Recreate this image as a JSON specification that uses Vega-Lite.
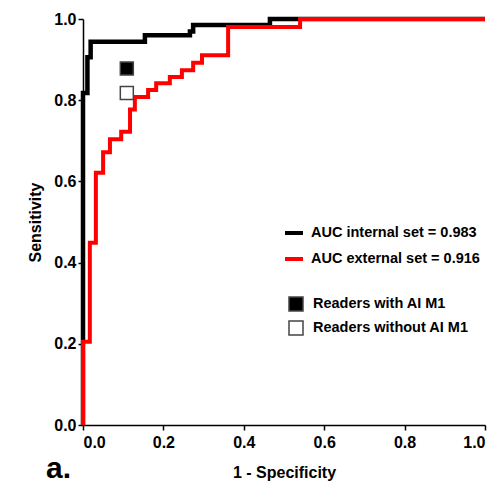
{
  "$schema": "https://vega.github.io/schema/vega-lite/v6.json",
  "width": 402,
  "height": 406,
  "autosize": {"type": "none"},
  "padding": {"left": 83, "top": 19, "right": 14, "bottom": 57},
  "background": "white",
  "title": {
    "text": "a.",
    "orient": "bottom",
    "anchor": "start",
    "frame": "group",
    "font": "Liberation Sans",
    "fontSize": 30,
    "fontWeight": "bold",
    "color": "black",
    "baseline": "alphabetic",
    "dx": -37,
    "dy": -6
  },
  "datasets": {
    "roc": [
      {"curve": "AUC internal set = 0.983", "i": 0, "fpr": 0.0, "tpr": 0.0},
      {"curve": "AUC internal set = 0.983", "i": 1, "fpr": 0.0, "tpr": 0.818},
      {"curve": "AUC internal set = 0.983", "i": 2, "fpr": 0.011, "tpr": 0.906},
      {"curve": "AUC internal set = 0.983", "i": 3, "fpr": 0.019, "tpr": 0.944},
      {"curve": "AUC internal set = 0.983", "i": 4, "fpr": 0.154, "tpr": 0.96},
      {"curve": "AUC internal set = 0.983", "i": 5, "fpr": 0.266, "tpr": 0.969},
      {"curve": "AUC internal set = 0.983", "i": 6, "fpr": 0.274, "tpr": 0.985},
      {"curve": "AUC internal set = 0.983", "i": 7, "fpr": 0.465, "tpr": 1.0},
      {"curve": "AUC internal set = 0.983", "i": 8, "fpr": 1.0, "tpr": 1.0},
      {"curve": "AUC external set = 0.916", "i": 0, "fpr": 0.0, "tpr": 0.0},
      {"curve": "AUC external set = 0.916", "i": 1, "fpr": 0.0, "tpr": 0.205},
      {"curve": "AUC external set = 0.916", "i": 2, "fpr": 0.017, "tpr": 0.449},
      {"curve": "AUC external set = 0.916", "i": 3, "fpr": 0.032, "tpr": 0.621},
      {"curve": "AUC external set = 0.916", "i": 4, "fpr": 0.05, "tpr": 0.672},
      {"curve": "AUC external set = 0.916", "i": 5, "fpr": 0.067, "tpr": 0.704},
      {"curve": "AUC external set = 0.916", "i": 6, "fpr": 0.095, "tpr": 0.722},
      {"curve": "AUC external set = 0.916", "i": 7, "fpr": 0.117, "tpr": 0.777},
      {"curve": "AUC external set = 0.916", "i": 8, "fpr": 0.129, "tpr": 0.808},
      {"curve": "AUC external set = 0.916", "i": 9, "fpr": 0.162, "tpr": 0.825},
      {"curve": "AUC external set = 0.916", "i": 10, "fpr": 0.182, "tpr": 0.842},
      {"curve": "AUC external set = 0.916", "i": 11, "fpr": 0.216, "tpr": 0.857},
      {"curve": "AUC external set = 0.916", "i": 12, "fpr": 0.246, "tpr": 0.874},
      {"curve": "AUC external set = 0.916", "i": 13, "fpr": 0.274, "tpr": 0.892},
      {"curve": "AUC external set = 0.916", "i": 14, "fpr": 0.296, "tpr": 0.911},
      {"curve": "AUC external set = 0.916", "i": 15, "fpr": 0.361, "tpr": 0.98},
      {"curve": "AUC external set = 0.916", "i": 16, "fpr": 0.54, "tpr": 1.0},
      {"curve": "AUC external set = 0.916", "i": 17, "fpr": 1.0, "tpr": 1.0}
    ],
    "readers": [
      {"group": "Readers with AI M1", "fpr": 0.109, "tpr": 0.878},
      {"group": "Readers without AI M1", "fpr": 0.109, "tpr": 0.818}
    ]
  },
  "encoding": {
    "x": {
      "field": "fpr",
      "type": "quantitative",
      "scale": {"domain": [0, 1], "nice": false, "zero": false},
      "axis": {
        "title": "1 - Specificity",
        "values": [0, 0.2, 0.4, 0.6, 0.8, 1.0],
        "format": ".1f",
        "labelPadding": 4,
        "titlePadding": 14
      }
    },
    "y": {
      "field": "tpr",
      "type": "quantitative",
      "scale": {"domain": [0, 1], "nice": false, "zero": false},
      "axis": {
        "title": "Sensitivity",
        "values": [0, 0.2, 0.4, 0.6, 0.8, 1.0],
        "format": ".1f",
        "labelPadding": 2,
        "titlePadding": 10
      }
    }
  },
  "layer": [
    {
      "data": {"name": "roc"},
      "transform": [{"filter": "datum.curve === 'AUC internal set = 0.983'"}],
      "mark": {"type": "line", "interpolate": "step-after", "strokeWidth": 4.5, "strokeJoin": "miter", "clip": false},
      "encoding": {
        "order": {"field": "i", "type": "quantitative"},
        "color": {
          "field": "curve",
          "type": "nominal",
          "scale": {
            "domain": ["AUC internal set = 0.983", "AUC external set = 0.916"],
            "range": ["#000000", "#ff0000"]
          },
          "legend": {
            "title": null,
            "orient": "none",
            "legendX": 200,
            "legendY": 203,
            "symbolType": "stroke",
            "symbolSize": 324,
            "symbolStrokeWidth": 4,
            "rowPadding": 7,
            "labelOffset": 6
          }
        }
      }
    },
    {
      "data": {"name": "roc"},
      "transform": [{"filter": "datum.curve === 'AUC external set = 0.916'"}],
      "mark": {"type": "line", "interpolate": "step-after", "strokeWidth": 4, "strokeJoin": "miter", "clip": false},
      "encoding": {
        "order": {"field": "i", "type": "quantitative"},
        "color": {"field": "curve", "type": "nominal"}
      }
    },
    {
      "data": {"name": "readers"},
      "mark": {"type": "point", "shape": "square", "filled": true, "size": 169, "stroke": "#444444", "strokeWidth": 1.5, "opacity": 1},
      "encoding": {
        "fill": {
          "field": "group",
          "type": "nominal",
          "scale": {
            "domain": ["Readers with AI M1", "Readers without AI M1"],
            "range": ["#000000", "#ffffff"]
          },
          "legend": {
            "title": null,
            "orient": "none",
            "legendX": 205,
            "legendY": 277,
            "symbolType": "square",
            "symbolSize": 196,
            "symbolStrokeColor": "#444444",
            "symbolStrokeWidth": 1.5,
            "rowPadding": 4,
            "labelOffset": 9
          }
        }
      }
    }
  ],
  "config": {
    "view": {"stroke": null},
    "axis": {
      "grid": false,
      "domainColor": "#000000",
      "domainWidth": 1.5,
      "tickColor": "#000000",
      "tickWidth": 1.5,
      "tickSize": 5,
      "labelFont": "Liberation Sans",
      "labelFontWeight": "bold",
      "labelFontSize": 16,
      "labelColor": "#000000",
      "titleFont": "Liberation Sans",
      "titleFontWeight": "bold",
      "titleFontSize": 16,
      "titleColor": "#000000"
    },
    "legend": {
      "padding": 0,
      "labelFont": "Liberation Sans",
      "labelFontWeight": "bold",
      "labelFontSize": 14.5,
      "labelColor": "#000000",
      "labelLimit": 300
    }
  }
}
